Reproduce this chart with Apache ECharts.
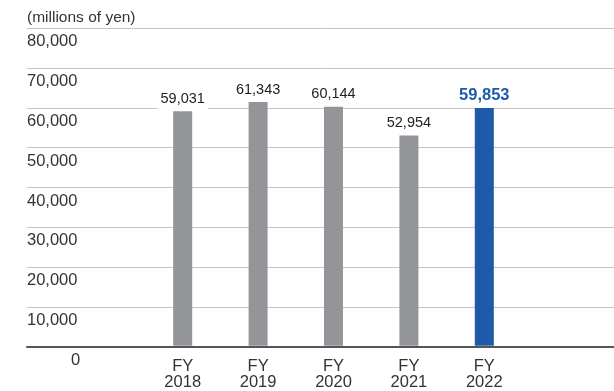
<!DOCTYPE html>
<html>
<head>
<meta charset="utf-8">
<script src="https://cdn.jsdelivr.net/npm/echarts@6/dist/echarts.min.js"></script>
<style>
  html, body { margin: 0; padding: 0; background: #fff; }
  #chart { width: 614px; height: 391px; }
</style>
</head>
<body>
<div id="chart"></div>
<script>
// Net sales by fiscal year (millions of yen)
const categories = ['2018', '2019', '2020', '2021', '2022'];
const values = [59031, 61343, 60144, 52954, 59853];
const yTicks = [0, 10000, 20000, 30000, 40000, 50000, 60000, 70000, 80000];

const FONT = '"Liberation Sans", Arial, Helvetica, sans-serif';
const GREY = '#939598';
const BLUE = '#1f5aa9';
const fmt = v => Number(v).toLocaleString('en-US');

const barData = values.map((v, i) => {
  const latest = i === values.length - 1;
  return {
    value: v,
    itemStyle: { color: latest ? BLUE : GREY },
    label: latest
      ? { color: BLUE, fontWeight: 'bold', fontSize: 16.5, distance: 1 }
      : { color: '#222', fontSize: 14.5 }
  };
});

const chart = echarts.init(document.getElementById('chart'), null, { renderer: 'canvas' });
chart.setOption({
  animation: false,
  backgroundColor: '#fff',
  title: {
    text: '(millions of yen)',
    left: 22, top: 5,
    textStyle: { fontFamily: FONT, fontSize: 15.5, fontWeight: 'normal', color: '#333' }
  },
  grid: [
    { left: 27, right: 0, top: 28, bottom: 44 },
    { left: 145, width: 377, top: 28, bottom: 44 }
  ],
  xAxis: [
    {
      gridIndex: 0, type: 'value', min: 0, max: 1, z: 5,
      axisLine: { show: true, lineStyle: { color: '#555', width: 2 } },
      axisTick: { show: false }, axisLabel: { show: false }, splitLine: { show: false }
    },
    {
      gridIndex: 1, type: 'category', data: categories,
      axisLine: { show: false }, axisTick: { show: false },
      axisLabel: {
        margin: 12, formatter: v => 'FY\n' + v,
        fontFamily: FONT, fontSize: 16.5, lineHeight: 16.5, color: '#333'
      }
    }
  ],
  yAxis: [
    {
      gridIndex: 0, type: 'value', min: yTicks[0], max: yTicks[yTicks.length - 1], interval: 10000,
      axisLine: { show: false }, axisTick: { show: false },
      splitLine: { show: true, lineStyle: { color: '#c4c4c4', width: 1 } },
      axisLabel: {
        inside: true, margin: 0, align: 'left', verticalAlign: 'top',
        padding: [5, 0, 0, 0],
        fontFamily: FONT, fontSize: 16.5, color: '#333',
        formatter: v => (v === 0 ? '{z|0}' : fmt(v)),
        rich: { z: { fontFamily: FONT, fontSize: 16.5, color: '#333', padding: [0, 0, 0, 44] } }
      }
    },
    { gridIndex: 1, type: 'value', min: 0, max: 80000, show: false }
  ],
  series: [{
    type: 'bar',
    xAxisIndex: 1, yAxisIndex: 1,
    barWidth: 19,
    data: barData,
    label: {
      show: true, position: 'top', distance: 2,
      fontFamily: FONT, backgroundColor: '#fff', padding: [2, 3, 3, 3],
      formatter: p => fmt(p.value)
    }
  }]
});
</script>
</body>
</html>
